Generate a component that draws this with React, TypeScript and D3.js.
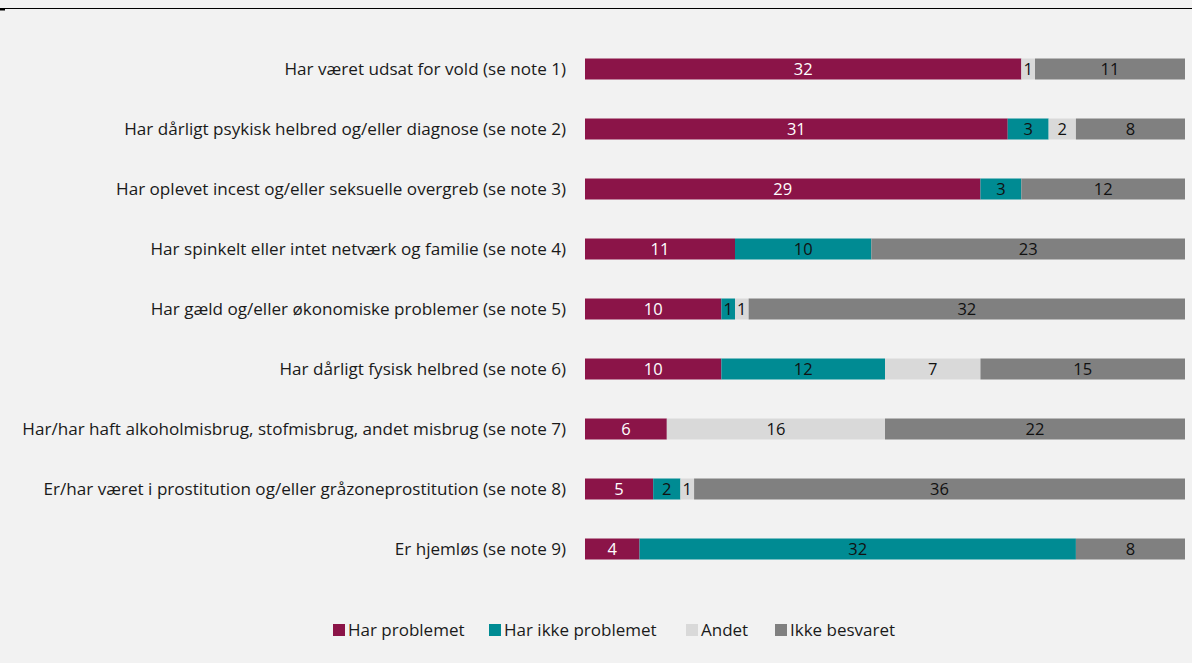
import React from "react";
import * as d3 from "d3";

const categories = [
  "Har været udsat for vold (se note 1)",
  "Har dårligt psykisk helbred og/eller diagnose (se note 2)",
  "Har oplevet incest og/eller seksuelle overgreb (se note 3)",
  "Har spinkelt eller intet netværk og familie (se note 4)",
  "Har gæld og/eller økonomiske problemer (se note 5)",
  "Har dårligt fysisk helbred (se note 6)",
  "Har/har haft alkoholmisbrug, stofmisbrug, andet misbrug (se note 7)",
  "Er/har været i prostitution og/eller gråzoneprostitution (se note 8)",
  "Er hjemløs (se note 9)",
];

const seriesNames = ["Har problemet", "Har ikke problemet", "Andet", "Ikke besvaret"];
const harProblemet = [32, 31, 29, 11, 10, 10, 6, 5, 4];
const harIkkeProblemet = [0, 3, 3, 10, 1, 12, 0, 2, 32];
const andet = [1, 2, 0, 0, 1, 7, 16, 1, 0];
const ikkeBesvaret = [11, 8, 12, 23, 32, 15, 22, 36, 8];

const colors = ["#8b1448", "#008b93", "#d9d9d9", "#808080"];
const labelColors = ["#ffffff", "#111111", "#111111", "#111111"];

const FONT = "'Open Sans', sans-serif";

export default function App() {
  const W = 1192;
  const H = 663;
  const rows = categories.map((c, i) => ({
    cat: c,
    vals: [harProblemet[i], harIkkeProblemet[i], andet[i], ikkeBesvaret[i]],
  }));
  const total = d3.max(rows, (r) => d3.sum(r.vals)) as number;
  const x = d3.scaleLinear().domain([0, total]).range([585, 1185]);
  const y = d3.scalePoint<string>().domain(categories).range([69, 549]);
  const barH = 21;

  const legendX = [333, 489, 686, 775];

  return (
    <svg
      width={W}
      height={H}
      style={{ position: "absolute", left: 0, top: 0, background: "#f2f2f2" }}
    >
      <rect x={0} y={0} width={W} height={H} fill="#f2f2f2" />
      <line x1={0} x2={W} y1={8.5} y2={8.5} stroke="#000" strokeWidth={1} />
      <rect x={0} y={9} width={5} height={1.5} fill="#000" />
      {rows.map((r) => {
        const cy = y(r.cat) as number;
        let acc = 0;
        return (
          <g key={r.cat}>
            <text
              x={566}
              y={cy}
              dy="0.35em"
              textAnchor="end"
              fontFamily={FONT}
              fontSize={17.1}
              fill="#1a1a1a"
            >
              {r.cat}
            </text>
            {r.vals.map((v, k) => {
              const x0 = x(acc);
              acc += v;
              const x1 = x(acc);
              if (v <= 0) return null;
              return (
                <g key={k}>
                  <rect
                    x={x0}
                    y={cy - barH / 2}
                    width={x1 - x0}
                    height={barH}
                    fill={colors[k]}
                  />
                  <text
                    x={(x0 + x1) / 2}
                    y={cy}
                    dy="0.36em"
                    textAnchor="middle"
                    fontFamily={FONT}
                    fontSize={16.5}
                    fill={labelColors[k]}
                  >
                    {v}
                  </text>
                </g>
              );
            })}
          </g>
        );
      })}
      {seriesNames.map((s, k) => (
        <g key={s}>
          <rect x={legendX[k]} y={624} width={12} height={12} fill={colors[k]} />
          <text
            x={legendX[k] + 15}
            y={630}
            dy="0.35em"
            fontFamily={FONT}
            fontSize={17}
            fill="#1a1a1a"
          >
            {s}
          </text>
        </g>
      ))}
    </svg>
  );
}
